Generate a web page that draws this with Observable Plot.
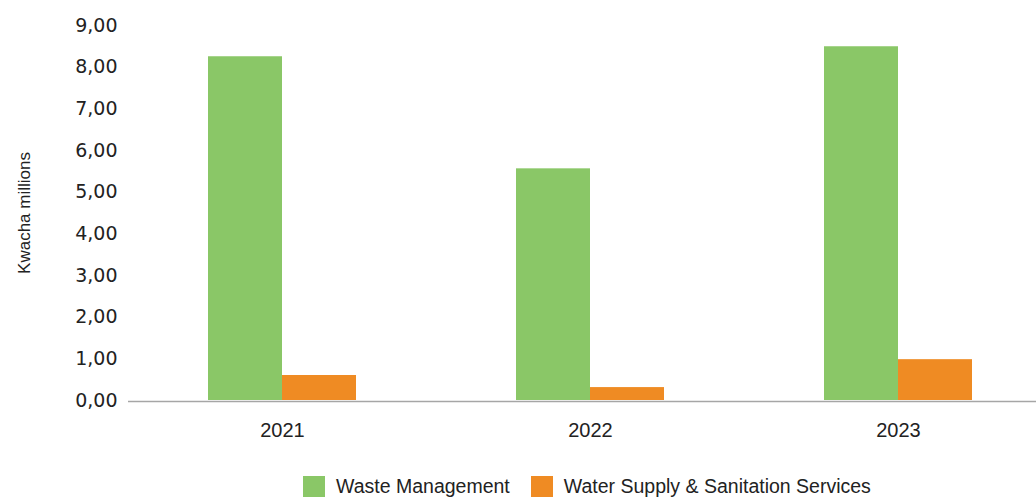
<!DOCTYPE html>
<html>
<head>
<meta charset="utf-8">
<script src="https://cdn.jsdelivr.net/npm/d3@7"></script>
<script src="https://cdn.jsdelivr.net/npm/@observablehq/plot@0.6"></script>
<style>
  html, body { margin: 0; padding: 0; background: #fff; }
  body { width: 1036px; height: 497px; overflow: hidden; font-family: "Liberation Sans", Arial, sans-serif; position: relative; }
  #legend { position: absolute; left: 303px; top: 475px; display: flex; align-items: center; font-size: 19.5px; color: #222; white-space: nowrap; }
  .sw { width: 22px; height: 22px; display: inline-block; margin-right: 11px; }
  .item { display: flex; align-items: center; margin-right: 21px; }
</style>
</head>
<body>
<div id="chart"></div>
<div id="legend"></div>
<script>
const years = ["2021", "2022", "2023"];
const seriesNames = ["Waste Management", "Water Supply & Sanitation Services"];
const wasteManagement = [8.25, 5.56, 8.49];
const waterSupply = [0.60, 0.31, 0.98];
const yTicks = [0, 1, 2, 3, 4, 5, 6, 7, 8, 9];
const colors = ["#8AC767", "#EF8B23"];

const data = years.flatMap((yr, i) => [
  {year: yr, series: seriesNames[0], value: wasteManagement[i]},
  {year: yr, series: seriesNames[1], value: waterSupply[i]}
]);

const chart = Plot.plot({
  width: 1036,
  height: 462,
  marginLeft: 128,
  marginRight: -16,
  marginTop: 25,
  marginBottom: 62,
  style: {fontFamily: "'Liberation Sans', Arial, sans-serif", color: "#222", background: "#fff"},
  fx: {domain: years, padding: 0, label: null},
  x: {domain: seriesNames, axis: null, paddingInner: 0, paddingOuter: 1.081},
  y: {domain: [0, 9], label: null},
  color: {domain: seriesNames, range: colors},
  marks: [
    Plot.barY(data, {fx: "year", x: "series", y: "value", fill: "series"}),
    Plot.ruleY([0], {stroke: "#a6a6a6", strokeWidth: 1.6, dy: 1}),
    Plot.axisFx({anchor: "bottom", tickSize: 0, tickPadding: 22, fontSize: 20, label: null}),
    Plot.axisY({
      ticks: yTicks,
      tickFormat: d => d.toFixed(2).replace(".", ","),
      tickSize: 0,
      tickPadding: 11,
      fontSize: 19,
      fontFamily: "'DejaVu Sans', sans-serif",
      label: null
    }),
    Plot.axisY({
      ticks: [],
      tickSize: 0,
      fontSize: 17,
      label: "Kwacha millions",
      labelAnchor: "center",
      labelArrow: "none",
      labelOffset: 111
    })
  ]
});
document.getElementById("chart").appendChild(chart);

const legend = document.getElementById("legend");
seriesNames.forEach((name, i) => {
  const item = document.createElement("span");
  item.className = "item";
  const sw = document.createElement("span");
  sw.className = "sw";
  sw.style.background = colors[i];
  item.appendChild(sw);
  item.appendChild(document.createTextNode(name));
  legend.appendChild(item);
});
</script>
</body>
</html>
